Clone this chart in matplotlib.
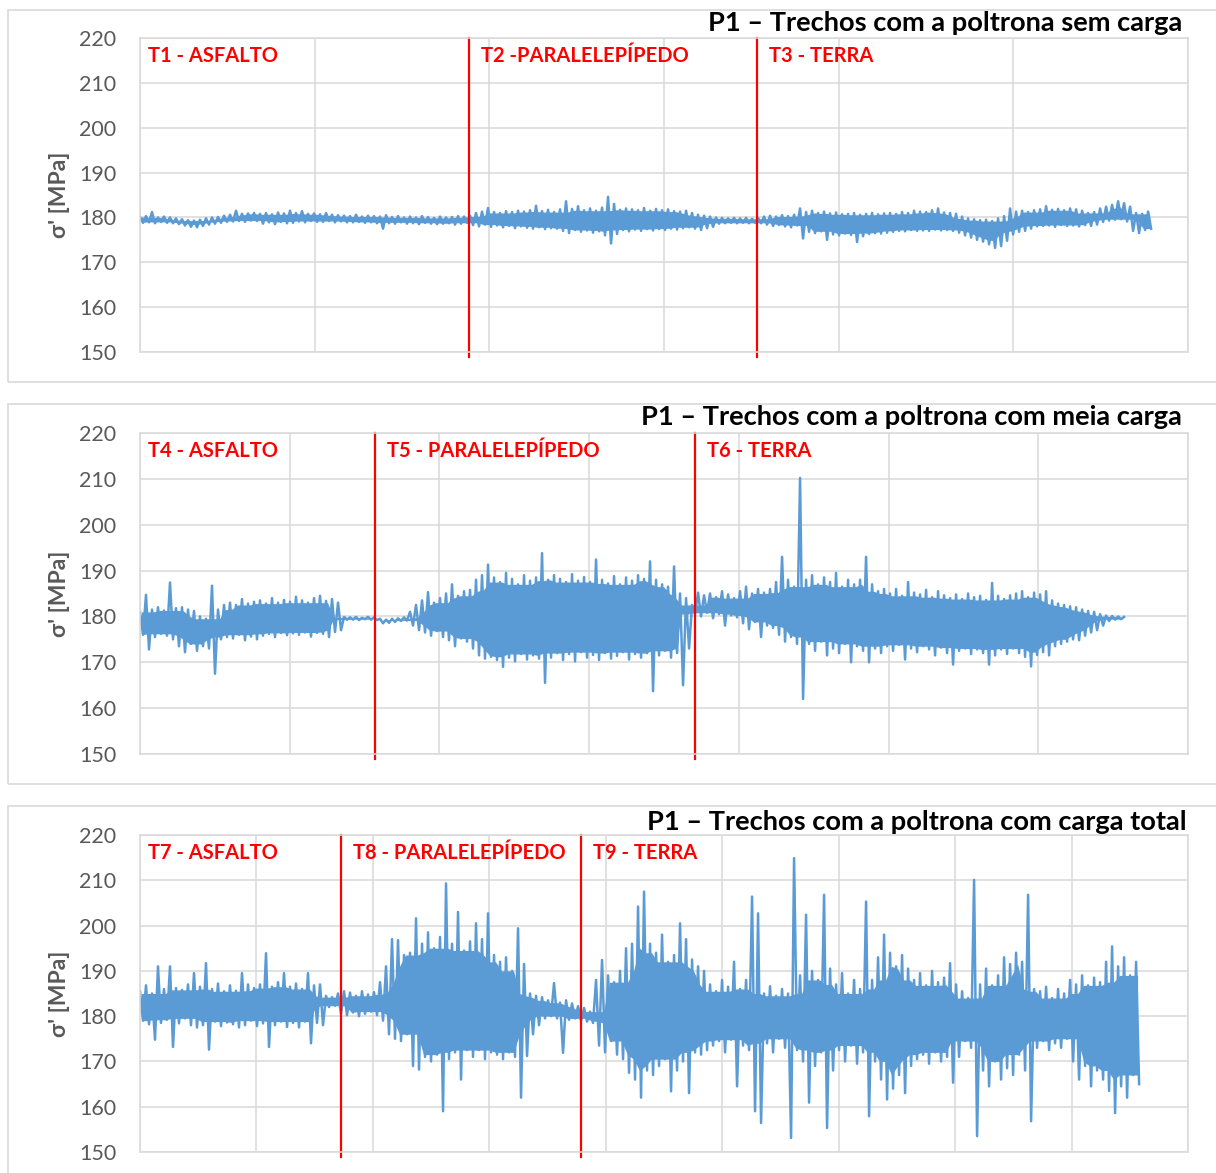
import numpy as np
import pandas as pd
import matplotlib.pyplot as plt
from matplotlib.patches import Rectangle

# sigma' [MPa], decimated to alternating
# local peaks / valleys (one value every ~3 px of the original chart)
sigma_p1 = [
    180.1, 178.8, 180.3, 178.9, 181.2, 178.7, 180.0, 179.0, 180.2, 178.8,
    180.0, 178.7, 179.8, 178.5, 179.6, 178.2, 179.4, 177.9, 179.3, 177.8,
    179.5, 178.1, 179.8, 178.4, 180.0, 178.6, 180.1, 178.8, 180.4, 179.0,
    180.6, 179.1, 181.5, 179.2, 180.8, 179.0, 180.9, 179.3, 181.0, 179.2,
    180.8, 178.6, 181.0, 178.9, 180.7, 178.5, 181.1, 179.0, 180.9, 178.7,
    181.5, 178.8, 181.0, 179.1, 181.4, 178.9, 180.8, 179.2, 180.9, 179.0,
    180.7, 179.0, 181.0, 179.2, 180.6, 178.9, 180.5, 179.1, 180.4, 178.9,
    180.3, 178.9, 180.6, 179.0, 180.2, 178.8, 180.4, 178.9, 180.3, 178.7,
    180.2, 177.5, 180.5, 178.7, 180.1, 178.6, 180.3, 178.9, 180.0, 178.6,
    180.2, 178.7, 180.0, 178.5, 180.3, 178.8, 180.1, 178.6, 179.9, 178.5,
    180.2, 178.6, 180.0, 178.7, 180.1, 178.4, 180.3, 178.6, 180.2, 178.8,
    180.4, 178.3, 181.0, 178.0, 181.3, 178.4, 182.1, 177.9, 181.2, 178.2,
    181.0, 177.8, 181.4, 178.1, 181.2, 177.6, 181.5, 178.0, 181.3, 177.7,
    181.6, 177.5, 182.6, 177.8, 181.4, 177.4, 181.7, 177.6, 181.2, 177.5,
    181.8, 177.0, 183.6, 176.5, 181.9, 177.2, 182.5, 176.8, 181.6, 177.1,
    182.0, 176.6, 181.5, 176.9, 182.2, 176.0, 184.6, 174.2, 183.0, 176.3,
    181.7, 177.2, 182.0, 176.9, 181.8, 177.3, 181.6, 177.0, 182.1, 177.4,
    181.5, 177.1, 181.9, 177.4, 181.6, 177.2, 181.8, 177.5, 181.4, 177.3,
    181.3, 177.6, 181.5, 177.8, 181.0, 177.5, 180.6, 177.2, 180.4, 177.6,
    180.2, 177.9, 180.0, 178.6, 179.9, 178.7, 179.8, 178.8, 179.9, 178.7,
    179.8, 178.8, 179.9, 178.7, 179.7, 178.8, 179.9, 178.7, 180.2, 178.4,
    180.4, 178.1, 180.2, 178.3, 180.5, 178.0, 180.3, 177.8, 180.6, 178.2,
    182.0, 175.3, 181.2, 176.8, 181.5, 176.5, 181.0, 176.9, 181.3, 175.0,
    180.9, 176.2, 181.1, 176.0, 180.7, 176.4, 180.8, 176.1, 181.0, 174.5,
    180.6, 175.8, 180.8, 176.3, 181.0, 176.5, 180.7, 176.4, 180.9, 176.6,
    181.0, 176.8, 180.8, 177.0, 181.2, 176.9, 181.0, 177.2, 181.5, 177.0,
    181.3, 177.1, 181.2, 177.0, 181.6, 177.3, 182.0, 177.1, 181.1, 177.2,
    181.0, 177.0, 180.8, 176.6, 180.2, 176.0, 179.8, 175.5, 179.6, 175.0,
    179.4, 174.6, 179.5, 174.0, 179.2, 173.2, 179.8, 173.6, 180.3, 174.8,
    182.0, 176.2, 181.3, 176.8, 181.5, 177.0, 181.2, 177.5, 181.6, 178.0,
    181.8, 178.1, 182.5, 178.2, 181.7, 177.9, 181.9, 178.3, 181.6, 178.1,
    182.0, 178.2, 181.8, 178.0, 181.5, 178.3, 181.0, 178.1, 181.2, 178.4,
    182.0, 179.0, 182.4, 179.3, 182.8, 179.5, 183.6, 179.6, 183.2, 179.1,
    182.4, 177.0, 181.0, 176.5, 180.8, 177.2, 181.3, 177.5,
]

sigma_p2 = [
    181.0, 176.0, 184.7, 172.8, 181.5, 175.5, 182.0, 176.2, 181.3, 175.8,
    187.4, 175.0, 181.8, 173.5, 182.0, 172.2, 181.5, 174.0, 181.2, 172.5,
    180.0, 173.5, 179.5, 173.0, 186.7, 167.5, 181.5, 175.0, 182.5, 175.5,
    183.0, 175.2, 182.5, 176.0, 183.8, 174.8, 182.8, 175.6, 183.2, 175.0,
    183.5, 175.8, 182.8, 176.2, 184.0, 175.5, 183.0, 176.4, 183.6, 175.9,
    183.2, 176.3, 184.3, 176.0, 183.5, 176.5, 183.0, 175.6, 184.0, 176.4,
    184.5, 176.2, 183.4, 175.5, 183.8, 176.6, 183.0, 177.0, 179.9, 179.3,
    179.8, 179.3, 179.9, 179.2, 179.7, 179.4, 179.9, 179.3, 179.8, 179.2,
    179.5, 178.5, 179.3, 178.6, 179.5, 178.8, 179.6, 179.0, 179.8, 179.1,
    181.0, 178.0, 182.5, 177.0, 183.5, 176.5, 185.3, 175.8, 183.0, 176.8,
    184.0, 175.5, 185.0, 174.8, 187.0, 173.5, 184.5, 175.2, 185.5, 174.5,
    185.8, 173.0, 188.0, 171.5, 189.0, 170.8, 191.3, 171.2, 188.5, 170.5,
    187.5, 169.0, 189.5, 171.0, 188.2, 170.2, 187.0, 171.8, 189.0, 170.6,
    187.8, 171.5, 188.5, 170.8, 193.8, 165.5, 188.0, 171.0, 189.0, 172.0,
    188.2, 170.5, 187.5, 171.8, 189.2, 170.2, 187.8, 172.2, 188.6, 171.0,
    187.5, 171.6, 192.4, 170.5, 188.0, 172.0, 187.2, 170.8, 188.8, 171.4,
    187.0, 172.2, 188.5, 170.6, 187.8, 171.8, 189.0, 171.0, 188.2, 172.0,
    192.0, 163.7, 188.0, 171.5, 187.0, 172.5, 186.5, 171.0, 190.9, 172.0,
    185.0, 165.0, 184.0, 173.0, 182.5, 180.5, 185.2, 180.0, 184.6, 180.8,
    185.0, 179.6, 184.2, 180.5, 185.5, 178.0, 184.8, 180.2, 184.0, 179.8,
    185.5, 178.5, 186.5, 177.2, 185.0, 178.8, 186.0, 175.5, 185.2, 178.0,
    186.0, 177.5, 187.5, 176.0, 193.0, 174.5, 188.0, 175.5, 186.5, 174.0,
    210.2, 162.0, 188.0, 174.0, 189.0, 172.5, 187.0, 174.5, 188.5, 171.5,
    187.5, 173.0, 189.5, 172.0, 186.5, 174.0, 188.0, 170.0, 187.0, 173.5,
    188.0, 172.5, 193.0, 170.0, 187.0, 173.0, 185.5, 172.0, 186.0, 173.5,
    185.0, 172.5, 186.0, 173.8, 184.5, 170.6, 187.5, 173.0, 185.2, 172.2,
    184.8, 173.5, 185.8, 172.8, 184.2, 171.5, 185.5, 173.2, 184.6, 172.0,
    184.0, 169.5, 184.8, 172.5, 183.8, 173.0, 185.0, 171.8, 184.2, 172.8,
    184.5, 172.0, 183.6, 169.5, 187.3, 171.5, 184.5, 172.8, 183.8, 171.8,
    184.6, 173.0, 185.0, 172.0, 185.5, 171.2, 184.2, 169.1, 185.2, 171.6,
    184.8, 172.2, 185.5, 171.5, 183.5, 173.5, 182.8, 174.0, 182.5, 174.5,
    182.2, 175.0, 182.0, 174.8, 181.5, 175.8, 181.2, 176.5, 181.0, 177.0,
    180.5, 178.0, 180.2, 179.0, 180.1, 179.3, 180.0, 179.4, 179.9,
]

sigma_p3 = [
    185.5, 179.0, 186.8, 178.2, 185.0, 174.8, 191.0, 178.5, 186.0, 179.2,
    191.0, 173.2, 186.2, 178.4, 185.8, 179.5, 187.0, 178.0, 189.5, 177.5,
    186.5, 178.0, 191.7, 172.6, 186.0, 178.8, 187.2, 177.8, 185.5, 178.6,
    186.8, 178.2, 185.6, 177.5, 189.5, 178.0, 187.0, 179.0, 186.2, 177.8,
    187.0, 178.4, 193.9, 173.2, 186.5, 178.0, 187.5, 178.8, 189.5, 177.6,
    186.5, 178.5, 187.2, 177.5, 186.0, 178.8, 189.5, 174.0, 186.8, 178.5,
    187.0, 178.0, 184.5, 182.0, 184.2, 182.3, 185.0, 180.5, 185.5, 180.2,
    185.2, 180.8, 184.5, 180.0, 185.5, 180.5, 184.8, 181.0, 185.3, 180.2,
    187.5, 179.0, 191.0, 176.0, 197.0, 175.0, 196.8, 174.5, 193.5, 176.0,
    194.0, 169.0, 201.6, 168.2, 196.0, 171.0, 198.5, 170.0, 195.0, 171.5,
    197.5, 159.0, 209.3, 170.5, 196.0, 172.0, 203.0, 166.0, 194.5, 172.5,
    196.5, 171.0, 200.5, 172.5, 197.0, 170.5, 202.7, 172.0, 193.5, 171.5,
    192.0, 170.5, 193.0, 172.0, 190.0, 171.0, 199.4, 162.0, 191.5, 171.2,
    185.0, 176.0, 184.5, 178.0, 184.2, 179.5, 183.5, 180.0, 187.3, 179.5,
    183.0, 171.9, 183.5, 179.2, 182.8, 179.5, 182.2, 179.0, 181.8, 178.8,
    181.0, 178.5, 188.0, 173.5, 192.4, 172.0, 189.0, 174.5, 187.5, 171.5,
    190.0, 170.5, 195.0, 167.5, 196.0, 166.0, 204.2, 162.0, 207.5, 168.0,
    196.0, 167.0, 194.0, 169.0, 198.0, 170.5, 192.0, 163.4, 193.5, 168.0,
    200.5, 170.0, 197.0, 163.0, 192.5, 172.0, 191.0, 171.5, 190.0, 172.5,
    187.0, 173.5, 185.5, 174.5, 188.0, 172.0, 186.5, 174.8, 192.0, 164.5,
    186.0, 173.5, 188.0, 172.5, 206.4, 159.0, 202.7, 156.4, 185.0, 174.0,
    186.6, 172.0, 184.5, 175.0, 186.0, 173.0, 185.0, 153.1, 214.9, 172.5,
    189.0, 170.0, 202.4, 160.9, 190.0, 169.0, 188.0, 172.0, 206.8, 155.3,
    190.5, 168.0, 187.0, 172.5, 189.5, 170.0, 185.0, 173.5, 188.0, 169.5,
    186.0, 172.0, 205.3, 157.9, 188.0, 170.0, 193.0, 166.0, 198.0, 161.6,
    194.0, 164.0, 191.0, 167.0, 193.5, 163.0, 190.5, 169.0, 188.0, 170.5,
    189.5, 171.5, 186.8, 169.5, 190.0, 172.0, 187.5, 170.0, 188.5, 171.0,
    191.7, 165.3, 187.0, 171.0, 185.5, 174.5, 184.0, 173.0, 210.1, 153.5,
    187.0, 168.0, 190.5, 164.5, 186.8, 170.0, 189.0, 166.0, 193.0, 168.5,
    191.5, 167.0, 194.0, 171.5, 192.0, 168.0, 206.8, 156.8, 186.0, 173.0,
    185.5, 174.5, 186.5, 172.5, 184.0, 174.0, 186.0, 173.0, 185.0, 175.0,
    188.0, 170.0, 187.0, 166.0, 189.0, 169.0, 186.8, 164.5, 188.5, 168.0,
    187.5, 166.0, 192.0, 163.5, 195.4, 158.6, 191.0, 164.5, 193.0, 162.0,
    189.0, 167.0, 192.0, 165.0,
]

signals = [sigma_p1, sigma_p2, sigma_p3]
titles = ["P1 \u2013 Trechos com a poltrona sem carga",
          "P1 \u2013 Trechos com a poltrona com meia carga",
          "P1 \u2013 Trechos com a poltrona com carga total"]
section_names = [["T1 - ASFALTO", "T2 -PARALELEP\u00cdPEDO", "T3 - TERRA"],
                 ["T4 - ASFALTO", "T5 - PARALELEP\u00cdPEDO", "T6 - TERRA"],
                 ["T7 - ASFALTO", "T8 - PARALELEP\u00cdPEDO", "T9 - TERRA"]]
# sample index where the 2nd and 3rd stretch begin
section_starts = [[109.7, 205.7], [78.3, 185.0], [67.0, 147.0]]
x_max = 349.3
n_grid = [6, 7, 9]
y_ticks = [150, 160, 170, 180, 190, 200, 210, 220]

W, H = 1216, 1173
blue = "#5B9BD5"
grid_c = "#D9D9D9"
txt_c = "#595959"
font = ["Lato", "DejaVu Sans"]

fig = plt.figure(figsize=(W / 100, H / 100), dpi=100)

# chart areas (pixel boxes: top/bottom of frame, top/bottom of plot)
frames = [(10, 382), (404, 784), (806, 1195)]
plots = [(38, 352), (433, 754), (835, 1152)]
title_y = [23, 417, 822]
title_x = [1182, 1182, 1187]

for k in range(3):
    f0, f1 = frames[k]
    fig.patches.append(Rectangle((8 / W, 1 - f1 / H), 1.2, (f1 - f0) / H,
                                 transform=fig.transFigure, fill=False,
                                 edgecolor=grid_c, lw=1.2))
    p0, p1 = plots[k]
    ax = fig.add_axes([140 / W, 1 - p1 / H, 1048 / W, (p1 - p0) / H])
    sig = signals[k]

    # dense core of the record: lowest peak / highest valley nearby,
    # the single strokes above it come from the line itself
    m = len(sig) // 2
    peaks = pd.Series(sig[0:2 * m:2]).rolling(5, center=True, min_periods=1).min()
    vals = pd.Series(sig[1:2 * m:2]).rolling(5, center=True, min_periods=1).max()
    ax.fill_between(np.arange(m) * 2 + 0.5, vals, peaks, color=blue, lw=0)
    ax.plot(np.arange(len(sig)), sig, color=blue, lw=1.8)

    ax.set_xlim(0, x_max)
    ax.set_ylim(150, 220)
    ax.set_yticks(y_ticks)
    ax.set_xticks(np.linspace(0, x_max, n_grid[k] + 1))
    ax.set_xticklabels([])
    ax.set_axisbelow(True)
    ax.grid(True, color=grid_c, lw=1.1)
    for s in ax.spines.values():
        s.set_color(grid_c)
        s.set_linewidth(1.1)
    ax.tick_params(length=0)
    ax.tick_params(axis="y", pad=17, labelsize=15.5, labelcolor=txt_c)
    for lab in ax.get_yticklabels():
        lab.set_family(font)

    for xb in section_starts[k]:
        ax.axvline(xb, ymin=-0.016, ymax=1, color="#FF0000", lw=1.6, clip_on=False)
    lab_x = [2.7] + [xb + 4 for xb in section_starts[k]]
    for name, xl in zip(section_names[k], lab_x):
        ax.text(xl, 216, name, color="#FF0000", fontsize=14.5, fontweight="bold",
                family=font, va="center", ha="left")

    fig.text(title_x[k] / W, 1 - title_y[k] / H, titles[k], ha="right", va="center",
             fontsize=19.6, fontweight="bold", color="black", family=font)
    fig.text(60 / W, 1 - (p0 + p1) / 2 / H, "\u03c3' [MPa]", rotation=90,
             ha="center", va="center", fontsize=16.5, fontweight="bold",
             color=txt_c, family=font)

fig.savefig("out.png", dpi=100)
